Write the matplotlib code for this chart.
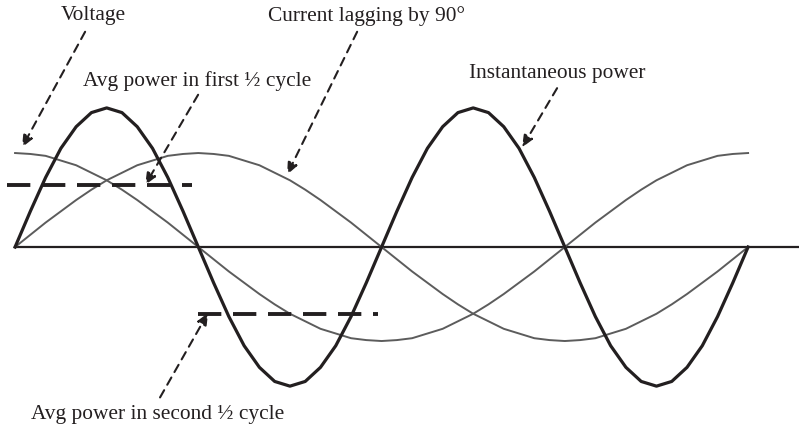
import matplotlib.pyplot as plt

# angle in degrees over one full cycle, sampled every 7.5 degrees
angle = [0, 7.5, 15, 22.5, 30, 37.5, 45, 52.5, 60, 67.5, 75, 82.5, 90,
         97.5, 105, 112.5, 120, 127.5, 135, 142.5, 150, 157.5, 165, 172.5, 180,
         187.5, 195, 202.5, 210, 217.5, 225, 232.5, 240, 247.5, 255, 262.5, 270,
         277.5, 285, 292.5, 300, 307.5, 315, 322.5, 330, 337.5, 345, 352.5, 360]
voltage = [1.0, 0.99, 0.97, 0.92, 0.87, 0.79, 0.71, 0.61, 0.5, 0.38, 0.26, 0.13, 0.0,
           -0.13, -0.26, -0.38, -0.5, -0.61, -0.71, -0.79, -0.87, -0.92, -0.97, -0.99, -1.0,
           -0.99, -0.97, -0.92, -0.87, -0.79, -0.71, -0.61, -0.5, -0.38, -0.26, -0.13, 0.0,
           0.13, 0.26, 0.38, 0.5, 0.61, 0.71, 0.79, 0.87, 0.92, 0.97, 0.99, 1.0]
current = [0.0, 0.13, 0.26, 0.38, 0.5, 0.61, 0.71, 0.79, 0.87, 0.92, 0.97, 0.99, 1.0,
           0.99, 0.97, 0.92, 0.87, 0.79, 0.71, 0.61, 0.5, 0.38, 0.26, 0.13, 0.0,
           -0.13, -0.26, -0.38, -0.5, -0.61, -0.71, -0.79, -0.87, -0.92, -0.97, -0.99, -1.0,
           -0.99, -0.97, -0.92, -0.87, -0.79, -0.71, -0.61, -0.5, -0.38, -0.26, -0.13, 0.0]
power = [0.0, 0.38, 0.74, 1.05, 1.28, 1.43, 1.48, 1.43, 1.28, 1.05, 0.74, 0.38, 0.0,
         -0.38, -0.74, -1.05, -1.28, -1.43, -1.48, -1.43, -1.28, -1.05, -0.74, -0.38, 0.0,
         0.38, 0.74, 1.05, 1.28, 1.43, 1.48, 1.43, 1.28, 1.05, 0.74, 0.38, 0.0,
         -0.38, -0.74, -1.05, -1.28, -1.43, -1.48, -1.43, -1.28, -1.05, -0.74, -0.38, 0.0]

avg_first = 0.66
avg_first_span = [-4, 87]
avg_second = -0.71
avg_second_span = [90, 178]

ink = '#231f20'
grey = '#5c5c5c'

fig = plt.figure(figsize=(7.99, 4.26), dpi=100)
ax = fig.add_axes([0, 0, 1, 1])
ax.set_xlim(-7.4, 385)
ax.set_ylim(-1.904, 2.628)
ax.axis('off')

ax.plot([0, 385], [0, 0], color=ink, lw=1.6)
ax.plot(angle, voltage, color=grey, lw=1.4)
ax.plot(angle, current, color=grey, lw=1.4)
ax.plot(angle, power, color=ink, lw=2.3, solid_joinstyle='round')

ax.plot(avg_first_span, [avg_first, avg_first], color=ink, lw=2.8, linestyle=(0, (6, 3)))
ax.plot(avg_second_span, [avg_second, avg_second], color=ink, lw=2.8, linestyle=(0, (6, 3)))

font = dict(family='Liberation Serif', fontsize=15.4, color=ink, ha='center', va='center')
arrow = dict(arrowstyle='-|>,head_length=0.7,head_width=0.3', color=ink, lw=1.5,
             linestyle=(0, (4, 3)), shrinkA=0, shrinkB=0)

ax.text(38.3, 2.46, 'Voltage', **font)
ax.annotate('', xy=(3.4, 1.06), xytext=(34.4, 2.29), arrowprops=arrow)

ax.text(172.4, 2.46, 'Current lagging by 90°', **font)
ax.annotate('', xy=(133.6, 0.77), xytext=(168, 2.29), arrowprops=arrow)

ax.text(89.4, 1.77, 'Avg power in first ½ cycle', **font)
ax.annotate('', xy=(63.9, 0.66), xytext=(89.9, 1.62), arrowprops=arrow)

ax.text(266.2, 1.85, 'Instantaneous power', **font)
ax.annotate('', xy=(249, 1.06), xytext=(266.2, 1.69), arrowprops=arrow)

ax.text(70.2, -1.78, 'Avg power in second ½ cycle', **font)
ax.annotate('', xy=(94.8, -0.70), xytext=(71.2, -1.60), arrowprops=arrow)

plt.savefig('out.png')
